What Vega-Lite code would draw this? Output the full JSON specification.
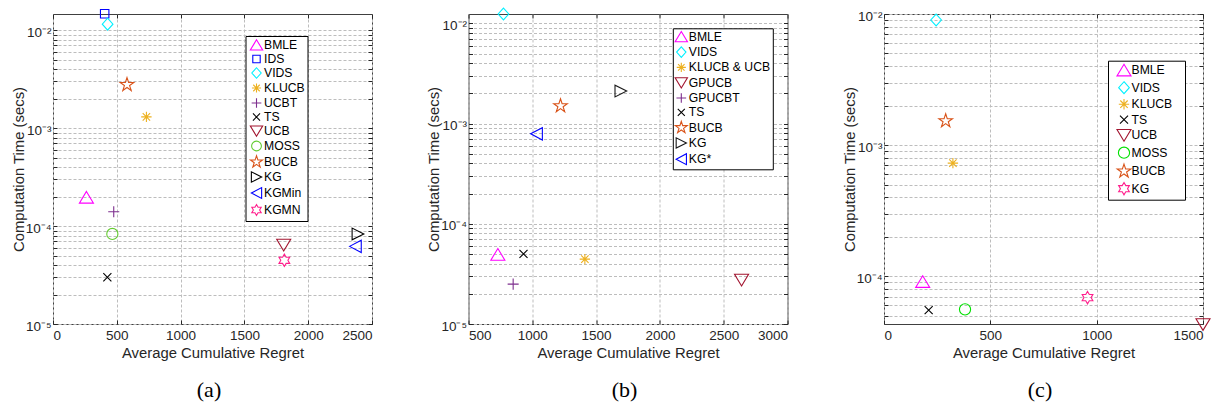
{
  "$schema": "https://vega.github.io/schema/vega-lite/v6.json",
  "background": "white",
  "padding": {"left": 10, "top": 5, "right": 0, "bottom": 0},
  "datasets": {
    "a": [
      {"m": "BMLE", "x": 262, "y": 0.000196},
      {"m": "IDS", "x": 405, "y": 0.0147},
      {"m": "VIDS", "x": 428, "y": 0.0115},
      {"m": "KLUCB", "x": 732, "y": 0.0013},
      {"m": "UCBT", "x": 476, "y": 0.00014},
      {"m": "TS", "x": 426, "y": 0.00003},
      {"m": "UCB", "x": 1808, "y": 0.000064},
      {"m": "MOSS", "x": 465, "y": 0.000083},
      {"m": "BUCB", "x": 580, "y": 0.00277},
      {"m": "KG", "x": 2390, "y": 0.000083},
      {"m": "KGMin", "x": 2370, "y": 0.000062},
      {"m": "KGMN", "x": 1813, "y": 0.0000447}
    ],
    "b": [
      {"m": "BMLE", "x": 730, "y": 0.0000494},
      {"m": "VIDS", "x": 774, "y": 0.0124},
      {"m": "KLUCB & UCB", "x": 1412, "y": 0.0000444},
      {"m": "GPUCB", "x": 2640, "y": 0.0000275},
      {"m": "GPUCBT", "x": 850, "y": 0.000025},
      {"m": "TS", "x": 931, "y": 0.00005},
      {"m": "BUCB", "x": 1221, "y": 0.0015},
      {"m": "KG", "x": 1694, "y": 0.00211},
      {"m": "\u00a0KG*", "x": 1033, "y": 0.00079}
    ],
    "c": [
      {"m": "BMLE", "x": 182, "y": 0.000091},
      {"m": "VIDS", "x": 245, "y": 0.009},
      {"m": "KLUCB", "x": 324, "y": 0.00073},
      {"m": "TS", "x": 210, "y": 0.0000553},
      {"m": "UCB", "x": 1500, "y": 0.000043},
      {"m": "MOSS", "x": 381, "y": 0.000056},
      {"m": "BUCB", "x": 290, "y": 0.00153},
      {"m": "KG", "x": 957, "y": 0.0000688}
    ]
  },
  "bounds": "flush",
  "spacing": 96.5,
  "resolve": {
    "scale": {"x": "independent", "y": "independent", "color": "independent", "shape": "independent"},
    "legend": {"color": "independent", "shape": "independent"}
  },
  "hconcat": [
    {
      "width": 319, "height": 310,
      "data": {"name": "a"},
      "title": {"text": "(a)"},
      "layer": [
        {
          "mark": {"type": "point", "filled": false, "size": 169, "strokeWidth": 1.1, "opacity": 1},
          "encoding": {
            "x": {"field": "x", "type": "quantitative", "scale": {"domain": [0, 2500], "nice": false, "zero": false},
                  "axis": {"values": [0, 500, 1000, 1500, 2000, 2500], "format": "d", "title": "Average Cumulative Regret"}},
            "y": {"field": "y", "type": "quantitative", "scale": {"type": "log", "domain": [1e-5, 0.0146], "nice": false},
                  "axis": {"values": [1e-5, 2e-5, 3e-5, 4e-5, 5e-5, 6e-5, 7e-5, 8e-5, 9e-5, 1e-4, 2e-4, 3e-4, 4e-4, 5e-4, 6e-4, 7e-4, 8e-4, 9e-4, 1e-3, 2e-3, 3e-3, 4e-3, 5e-3, 6e-3, 7e-3, 8e-3, 9e-3, 1e-2],
                           "labelExpr": "datum.value == 0.01 ? '10⁻²' : datum.value == 0.001 ? '10⁻³' : datum.value == 0.0001 ? '10⁻⁴' : datum.value == 0.00001 ? '10⁻⁵' : ''",
                           "title": "Computation Time (secs)"}},
            "color": {"field": "m", "type": "nominal",
                      "scale": {"domain": ["BMLE", "IDS", "VIDS", "KLUCB", "UCBT", "TS", "UCB", "MOSS", "BUCB", "KG", "KGMin", "KGMN"],
                                "range": ["#FF00FF", "#0000FF", "#00F0FF", "#EDB120", "#7E2F8E", "#000000", "#A2142F", "#66CC33", "#D95319", "#000000", "#0000FF", "#FF1E8C"]},
                      "legend": {"title": null, "orient": "none", "legendX": 192.5, "legendY": 22, "padding": 2.5, "symbolOffset": 2, "rowPadding": 0, "labelOffset": 1, "symbolSize": 130}},
            "shape": {"field": "m", "type": "nominal",
                      "scale": {"domain": ["BMLE", "IDS", "VIDS", "KLUCB", "UCBT", "TS", "UCB", "MOSS", "BUCB", "KG", "KGMin", "KGMN"],
                                "range": [
                                  "M0,-0.92L1.08,0.88L-1.08,0.88Z",
                                  "M-0.65,-0.65H0.65V0.65H-0.65Z",
                                  "M0,-0.92L0.82,0L0,0.92L-0.82,0Z",
                                  "M-0.8,0H0.8M0,-0.8V0.8M-0.57,-0.57L0.57,0.57M-0.57,0.57L0.57,-0.57",
                                  "M-0.85,0H0.85M0,-0.85V0.85",
                                  "M-0.62,-0.62L0.62,0.62M-0.62,0.62L0.62,-0.62",
                                  "M0,0.92L1.08,-0.88L-1.08,-0.88Z",
                                  "M0.86,0A0.86,0.86,0,1,1,-0.86,0A0.86,0.86,0,1,1,0.86,0Z",
                                  "M0,-1.1L0.247,-0.34L1.046,-0.34L0.399,0.13L0.647,0.89L0,0.42L-0.647,0.89L-0.399,0.13L-1.046,-0.34L-0.247,-0.34Z",
                                  "M0.9,0L-0.9,-0.9L-0.9,0.9Z",
                                  "M-0.9,0L0.9,-0.95L0.9,0.95Z",
                                  "M0,-0.95L0.274,-0.475L0.823,-0.475L0.548,0L0.823,0.475L0.274,0.475L0,0.95L-0.274,0.475L-0.823,0.475L-0.548,0L-0.823,-0.475L-0.274,-0.475Z"
                                ]},
                      "legend": {"title": null, "orient": "none", "legendX": 192.5, "legendY": 22, "padding": 2.5, "symbolOffset": 2, "rowPadding": 0, "labelOffset": 1, "symbolSize": 130}}
          }
        },
        {
          "mark": {"type": "point", "opacity": 0},
          "encoding": {
            "x": {"field": "x", "type": "quantitative", "scale": {"domain": [0, 2500], "nice": false, "zero": false},
                  "axis": {"orient": "top", "values": [0, 500, 1000, 1500, 2000, 2500], "labels": false, "title": null, "grid": false}},
            "y": {"field": "y", "type": "quantitative", "scale": {"type": "log", "domain": [1e-5, 0.0146], "nice": false},
                  "axis": {"orient": "right", "values": [1e-5, 2e-5, 3e-5, 4e-5, 5e-5, 6e-5, 7e-5, 8e-5, 9e-5, 1e-4, 2e-4, 3e-4, 4e-4, 5e-4, 6e-4, 7e-4, 8e-4, 9e-4, 1e-3, 2e-3, 3e-3, 4e-3, 5e-3, 6e-3, 7e-3, 8e-3, 9e-3, 1e-2], "labels": false, "title": null, "grid": false}}
          }
        }
      ],
      "resolve": {"axis": {"x": "independent", "y": "independent"}}
    },
    {
      "width": 319, "height": 310,
      "data": {"name": "b"},
      "title": {"text": "(b)"},
      "layer": [
        {
          "mark": {"type": "point", "filled": false, "size": 169, "strokeWidth": 1.1, "opacity": 1},
          "encoding": {
            "x": {"field": "x", "type": "quantitative", "scale": {"domain": [500, 3000], "nice": false, "zero": false},
                  "axis": {"values": [500, 1000, 1500, 2000, 2500, 3000], "format": "d", "title": "Average Cumulative Regret"}},
            "y": {"field": "y", "type": "quantitative", "scale": {"type": "log", "domain": [1e-5, 0.0124], "nice": false},
                  "axis": {"values": [1e-5, 2e-5, 3e-5, 4e-5, 5e-5, 6e-5, 7e-5, 8e-5, 9e-5, 1e-4, 2e-4, 3e-4, 4e-4, 5e-4, 6e-4, 7e-4, 8e-4, 9e-4, 1e-3, 2e-3, 3e-3, 4e-3, 5e-3, 6e-3, 7e-3, 8e-3, 9e-3, 1e-2],
                           "labelExpr": "datum.value == 0.01 ? '10⁻²' : datum.value == 0.001 ? '10⁻³' : datum.value == 0.0001 ? '10⁻⁴' : datum.value == 0.00001 ? '10⁻⁵' : ''",
                           "title": "Computation Time (secs)"}},
            "color": {"field": "m", "type": "nominal",
                      "scale": {"domain": ["BMLE", "VIDS", "KLUCB & UCB", "GPUCB", "GPUCBT", "TS", "BUCB", "KG", "\u00a0KG*"],
                                "range": ["#FF00FF", "#00F0FF", "#EDB120", "#A2142F", "#7E2F8E", "#000000", "#D95319", "#1A1A1A", "#0000FF"]},
                      "legend": {"title": null, "orient": "none", "legendX": 204.3, "legendY": 14.3, "padding": 2, "symbolOffset": 0, "rowPadding": 0.3, "labelOffset": 1, "symbolSize": 130}},
            "shape": {"field": "m", "type": "nominal",
                      "scale": {"domain": ["BMLE", "VIDS", "KLUCB & UCB", "GPUCB", "GPUCBT", "TS", "BUCB", "KG", "\u00a0KG*"],
                                "range": [
                                  "M0,-0.92L1.08,0.88L-1.08,0.88Z",
                                  "M0,-0.92L0.82,0L0,0.92L-0.82,0Z",
                                  "M-0.8,0H0.8M0,-0.8V0.8M-0.57,-0.57L0.57,0.57M-0.57,0.57L0.57,-0.57",
                                  "M0,0.92L1.08,-0.88L-1.08,-0.88Z",
                                  "M-0.85,0H0.85M0,-0.85V0.85",
                                  "M-0.62,-0.62L0.62,0.62M-0.62,0.62L0.62,-0.62",
                                  "M0,-1.1L0.247,-0.34L1.046,-0.34L0.399,0.13L0.647,0.89L0,0.42L-0.647,0.89L-0.399,0.13L-1.046,-0.34L-0.247,-0.34Z",
                                  "M0.9,0L-0.9,-0.9L-0.9,0.9Z",
                                  "M-0.9,0L0.9,-0.95L0.9,0.95Z"
                                ]},
                      "legend": {"title": null, "orient": "none", "legendX": 204.3, "legendY": 14.3, "padding": 2, "symbolOffset": 0, "rowPadding": 0.3, "labelOffset": 1, "symbolSize": 130}}
          }
        },
        {
          "mark": {"type": "point", "opacity": 0},
          "encoding": {
            "x": {"field": "x", "type": "quantitative", "scale": {"domain": [500, 3000], "nice": false, "zero": false},
                  "axis": {"orient": "top", "values": [500, 1000, 1500, 2000, 2500, 3000], "labels": false, "title": null, "grid": false}},
            "y": {"field": "y", "type": "quantitative", "scale": {"type": "log", "domain": [1e-5, 0.0124], "nice": false},
                  "axis": {"orient": "right", "values": [1e-5, 2e-5, 3e-5, 4e-5, 5e-5, 6e-5, 7e-5, 8e-5, 9e-5, 1e-4, 2e-4, 3e-4, 4e-4, 5e-4, 6e-4, 7e-4, 8e-4, 9e-4, 1e-3, 2e-3, 3e-3, 4e-3, 5e-3, 6e-3, 7e-3, 8e-3, 9e-3, 1e-2], "labels": false, "title": null, "grid": false}}
          }
        }
      ],
      "resolve": {"axis": {"x": "independent", "y": "independent"}}
    },
    {
      "width": 319, "height": 310,
      "data": {"name": "c"},
      "title": {"text": "(c)"},
      "layer": [
        {
          "mark": {"type": "point", "filled": false, "size": 169, "strokeWidth": 1.1, "opacity": 1},
          "encoding": {
            "x": {"field": "x", "type": "quantitative", "scale": {"domain": [0, 1500], "nice": false, "zero": false},
                  "axis": {"values": [0, 500, 1000, 1500], "format": "d", "title": "Average Cumulative Regret"}},
            "y": {"field": "y", "type": "quantitative", "scale": {"type": "log", "domain": [4.33e-5, 0.01], "nice": false},
                  "axis": {"values": [5e-5, 6e-5, 7e-5, 8e-5, 9e-5, 1e-4, 2e-4, 3e-4, 4e-4, 5e-4, 6e-4, 7e-4, 8e-4, 9e-4, 1e-3, 2e-3, 3e-3, 4e-3, 5e-3, 6e-3, 7e-3, 8e-3, 9e-3, 1e-2],
                           "labelExpr": "datum.value == 0.01 ? '10⁻²' : datum.value == 0.001 ? '10⁻³' : datum.value == 0.0001 ? '10⁻⁴' : ''",
                           "title": "Computation Time (secs)"}},
            "color": {"field": "m", "type": "nominal",
                      "scale": {"domain": ["BMLE", "VIDS", "KLUCB", "TS", "UCB", "MOSS", "BUCB", "KG"],
                                "range": ["#FF00FF", "#00F0FF", "#EDB120", "#000000", "#A2142F", "#00E000", "#D95319", "#FF1E8C"]},
                      "legend": {"title": "W", "titleOrient": "right", "titleFontSize": 10, "titlePadding": 1, "titleColor": "rgba(0,0,0,0)", "orient": "none", "legendX": 224, "legendY": 46.7, "padding": 2, "symbolOffset": 6.5, "rowPadding": 0.5, "labelOffset": 0, "symbolSize": 169}},
            "shape": {"field": "m", "type": "nominal",
                      "scale": {"domain": ["BMLE", "VIDS", "KLUCB", "TS", "UCB", "MOSS", "BUCB", "KG"],
                                "range": [
                                  "M0,-0.92L1.08,0.88L-1.08,0.88Z",
                                  "M0,-0.92L0.82,0L0,0.92L-0.82,0Z",
                                  "M-0.8,0H0.8M0,-0.8V0.8M-0.57,-0.57L0.57,0.57M-0.57,0.57L0.57,-0.57",
                                  "M-0.62,-0.62L0.62,0.62M-0.62,0.62L0.62,-0.62",
                                  "M0,0.92L1.08,-0.88L-1.08,-0.88Z",
                                  "M0.86,0A0.86,0.86,0,1,1,-0.86,0A0.86,0.86,0,1,1,0.86,0Z",
                                  "M0,-1.1L0.247,-0.34L1.046,-0.34L0.399,0.13L0.647,0.89L0,0.42L-0.647,0.89L-0.399,0.13L-1.046,-0.34L-0.247,-0.34Z",
                                  "M0,-0.95L0.274,-0.475L0.823,-0.475L0.548,0L0.823,0.475L0.274,0.475L0,0.95L-0.274,0.475L-0.823,0.475L-0.548,0L-0.823,-0.475L-0.274,-0.475Z"
                                ]},
                      "legend": {"title": "W", "titleOrient": "right", "titleFontSize": 10, "titlePadding": 1, "titleColor": "rgba(0,0,0,0)", "orient": "none", "legendX": 224, "legendY": 46.7, "padding": 2, "symbolOffset": 6.5, "rowPadding": 0.5, "labelOffset": 0, "symbolSize": 169}}
          }
        },
        {
          "mark": {"type": "point", "opacity": 0},
          "encoding": {
            "x": {"field": "x", "type": "quantitative", "scale": {"domain": [0, 1500], "nice": false, "zero": false},
                  "axis": {"orient": "top", "values": [0, 500, 1000, 1500], "labels": false, "title": null, "grid": false}},
            "y": {"field": "y", "type": "quantitative", "scale": {"type": "log", "domain": [4.33e-5, 0.01], "nice": false},
                  "axis": {"orient": "right", "values": [5e-5, 6e-5, 7e-5, 8e-5, 9e-5, 1e-4, 2e-4, 3e-4, 4e-4, 5e-4, 6e-4, 7e-4, 8e-4, 9e-4, 1e-3, 2e-3, 3e-3, 4e-3, 5e-3, 6e-3, 7e-3, 8e-3, 9e-3, 1e-2], "labels": false, "title": null, "grid": false}}
          }
        }
      ],
      "resolve": {"axis": {"x": "independent", "y": "independent"}}
    }
  ],
  "config": {
    "font": "Liberation Sans",
    "view": {"stroke": "#404040", "strokeWidth": 1},
    "axis": {
      "labelFont": "Liberation Sans", "labelFontSize": 13.5, "labelColor": "#262626",
      "titleFont": "Liberation Sans", "titleFontSize": 14.85, "titleFontWeight": "normal", "titleColor": "#262626",
      "domain": false,
      "tickColor": "#262626", "tickSize": -4, "tickWidth": 1,
      "grid": true,
      "gridColor": "#bdbdbd", "gridDash": [3, 2], "gridWidth": 1, "gridOpacity": 1
    },
    "axisX": {"labelPadding": 8, "titlePadding": 4},
    "axisY": {"labelPadding": 6, "labelOffset": 2, "titlePadding": -1},
    "legend": {
      "labelFont": "Liberation Sans", "labelFontSize": 12.2, "labelColor": "#000000",
      "strokeColor": "#000000", "fillColor": "#ffffff", "cornerRadius": 0,
      "symbolSize": 169, "symbolStrokeWidth": 1.1, "labelLimit": 300
    },
    "title": {
      "orient": "bottom", "anchor": "middle", "offset": 20, "dx": -3.5,
      "font": "Liberation Serif", "fontSize": 22, "fontWeight": "normal", "color": "#000000"
    }
  }
}
